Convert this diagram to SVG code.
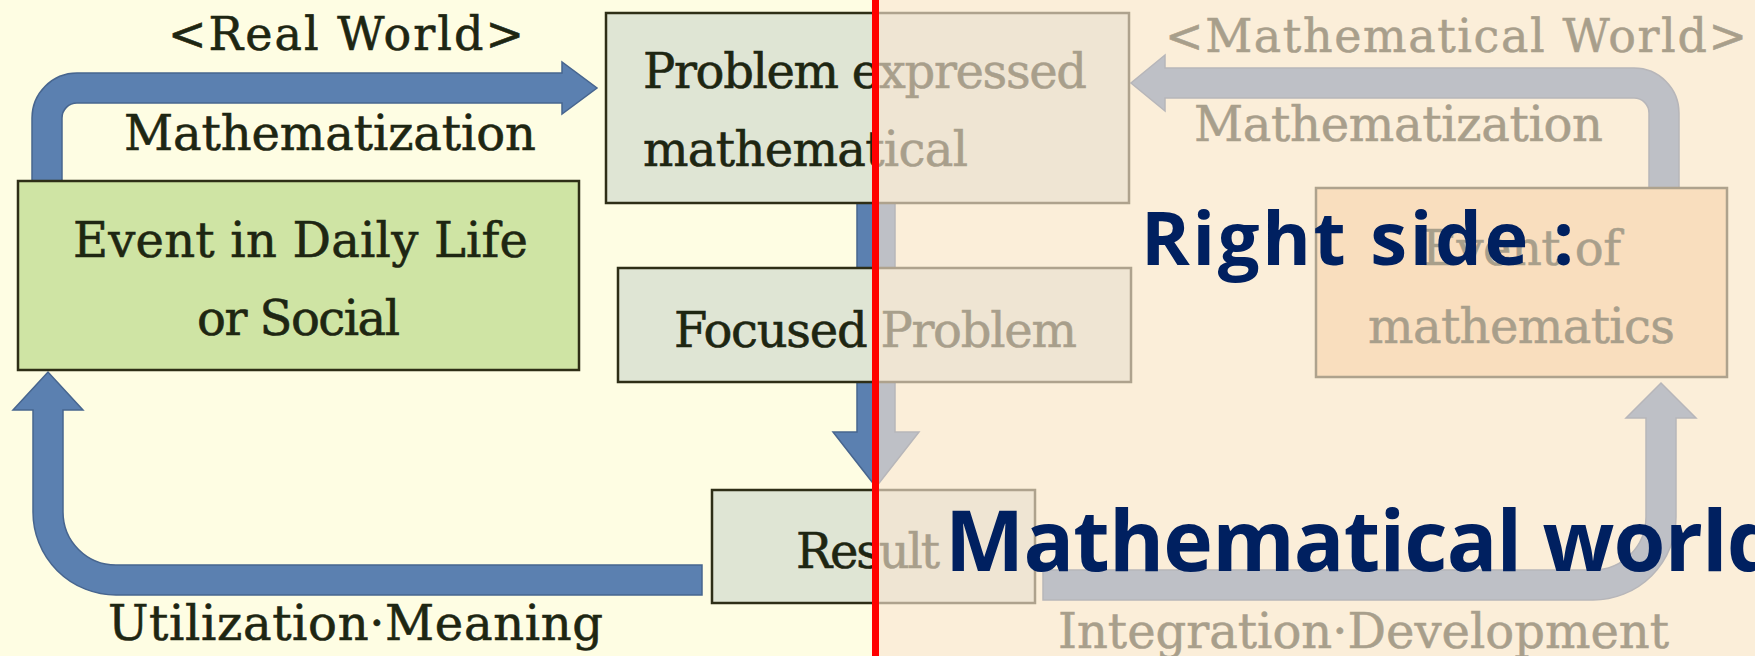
<svg xmlns="http://www.w3.org/2000/svg" width="1755" height="656" viewBox="0 0 1755 656">
<style>
.lbl{font-family:"DejaVu Serif","Liberation Serif",serif;font-size:48px;fill:#1e2612;stroke:#1e2612;stroke-width:0.6}
.hd{font-family:"DejaVu Serif","Liberation Serif",serif;font-size:46px;fill:#1e2612;stroke:#1e2612;stroke-width:0.6}
.box{stroke:#2e2e16;stroke-width:2.5}
.grey{fill:#dfe5d4}
.arr{fill:#5b80b0;stroke:#47658f;stroke-width:1.5}
.big{font-family:"Open Sans",Lato,sans-serif;font-weight:700;fill:#002060}
</style>
<rect x="0" y="0" width="1755" height="656" fill="#fefde3"/>
<g id="connectors">
<path class="arr" d="M32 181 L32 118 A45 45 0 0 1 77 73 L562 73 L562 62 L597 88 L562 114 L562 103 L77 103 A15 15 0 0 0 62 118 L62 181 Z"/>
<path class="arr" d="M857 203 L895 203 L895 432 L919 432 L876 487 L833 432 L857 432 Z"/>
<path class="arr" d="M702 565 L116 565 A53 53 0 0 1 63 512 L63 410 L83 410 L48 372 L13 410 L33 410 L33 512 A83 83 0 0 0 116 595 L702 595 Z"/>
<path class="arr" d="M1649 188 L1649 113 A15 15 0 0 0 1634 98 L1165 98 L1165 111 L1131 83 L1165 55 L1165 68 L1634 68 A45 45 0 0 1 1679 113 L1679 188 Z"/>
<path class="arr" d="M1043 570 L1593 570 A53 53 0 0 0 1646 517 L1646 418 L1626 418 L1661 383 L1696 418 L1676 418 L1676 517 A83 83 0 0 1 1593 600 L1043 600 Z"/>
</g>
<g id="labels">
<text class="hd" x="168" y="50" textLength="356">&lt;Real World&gt;</text>
<text class="lbl" x="124" y="150" textLength="412">Mathematization</text>
<text class="lbl" x="108" y="640" textLength="495">Utilization·Meaning</text>
<text class="hd" x="1165" y="52" textLength="582">&lt;Mathematical World&gt;</text>
<text class="lbl" x="1194" y="141" textLength="409">Mathematization</text>
<text class="lbl" x="1058" y="648" textLength="611">Integration·Development</text>
</g>
<g id="event-daily">
<rect class="box" x="18" y="181" width="561" height="189" fill="#cfe4a4"/>
<text class="lbl" x="73" y="257" textLength="455">Event in Daily Life</text>
<text class="lbl" x="197" y="335" textLength="203">or Social</text>
</g>
<g id="problem-expressed">
<rect class="box grey" x="606" y="13" width="523" height="190"/>
<text class="lbl" x="643" y="88" textLength="444">Problem expressed</text>
<text class="lbl" x="643" y="166" textLength="325">mathematical</text>
</g>
<g id="focused-problem">
<rect class="box grey" x="618" y="268" width="513" height="114"/>
<text class="lbl" x="674" y="347" textLength="403">Focused Problem</text>
</g>
<g id="result">
<rect class="box grey" x="712" y="490" width="323" height="113"/>
<text class="lbl" x="796" y="568" textLength="144">Result</text>
</g>
<g id="event-math">
<rect class="box" x="1316" y="188" width="411" height="189" fill="#fad29a"/>
<text class="lbl" x="1422" y="265" textLength="199">Event of</text>
<text class="lbl" x="1368" y="343" textLength="307">mathematics</text>
</g>
<rect x="876" y="0" width="879" height="656" fill="rgb(248,229,211)" fill-opacity="0.63"/>
<rect x="872" y="0" width="7" height="656" fill="#ff0000"/>
<text class="big" x="1141" y="265" font-size="74" textLength="433">Right side :</text>
<text class="big" x="945" y="571" font-size="84" textLength="835">Mathematical world</text>
</svg>
